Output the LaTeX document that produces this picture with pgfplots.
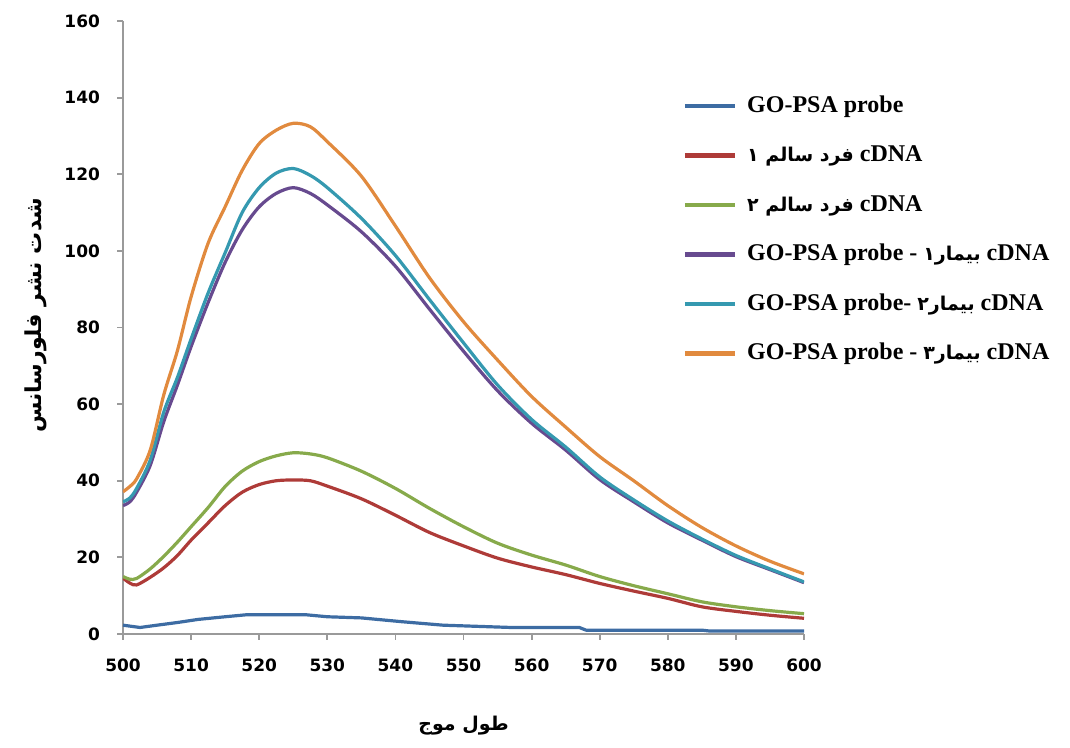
\documentclass[border=0pt]{standalone}
\usepackage{fontspec}
\setmainfont{Liberation Serif}
\newfontfamily\tickfont{DejaVu Sans}
\newfontfamily\arabicfont[Script=Arabic]{DejaVu Sans}
\TeXXeTstate=1
\usepackage{pgfplots}
\pgfplotsset{compat=1.18}

\definecolor{sBlue}{HTML}{3D6CA3}
\definecolor{sRed}{HTML}{AE3B38}
\definecolor{sGreen}{HTML}{87AA4B}
\definecolor{sPurple}{HTML}{674A8F}
\definecolor{sTeal}{HTML}{3599B0}
\definecolor{sOrange}{HTML}{E18A3E}
\definecolor{axgray}{HTML}{9A9A9A}

\newcommand{\faf}{\arabicfont\bfseries\fontsize{9.5}{11}\selectfont}

\begin{document}
\begin{tikzpicture}
\begin{axis}[
    scale only axis,
    width=340.5pt, height=306.5pt,
    xmin=500, xmax=600, ymin=0, ymax=160,
    xtick={500,510,...,600},
    ytick={0,20,...,160},
    axis x line*=bottom, axis y line*=left,
    axis line style={axgray, line width=0.9pt, -},
    tick align=outside,
    major tick length=3pt,
    tick style={axgray, line width=0.9pt},
    /pgf/number format/assume math mode=true,
    ticklabel style={font=\tickfont\bfseries\fontsize{8.5}{10}\selectfont},
    xticklabel style={yshift=-6pt},
    yticklabel style={xshift=-5pt},
    xlabel={{\faf\beginR طول موج\endR}},
    ylabel={{\arabicfont\bfseries\fontsize{11}{13}\selectfont\beginR شدت نشر فلورسانس\endR}},
    xlabel shift=15pt,
    ylabel style={at={(ticklabel cs:0.52)}},
    ylabel shift=2pt,
    every axis plot/.append style={line width=1.6pt, line join=round, mark=none},
    legend cell align=left,
    legend style={
        at={(rel axis cs:0.812,0.888)}, anchor=north west,
        draw=none, fill=none,
        font=\bfseries\fontsize{12}{14}\selectfont,
        nodes={inner sep=0pt, text height=9pt, text depth=3pt},
        row sep=12.75pt,
        /tikz/every odd column/.append style={column sep=5pt},
    },
    legend image code/.code={\draw[#1, line width=2.4pt] (0pt,0pt) -- (25pt,0pt);},
]
% GO-PSA probe
\addplot[sBlue] coordinates {
(500,2.3) (502.5,1.7) (505,2.3) (508,3.0) (511,3.8) (515,4.5) (518,5.0)
(527,5.0) (530,4.5) (535,4.2) (541,3.2) (547,2.3) (552,2.0) (557,1.7)
(567,1.7) (568,1.0) (585,1.0) (586,0.8) (600,0.8)
};
% healthy 1
\addplot[sRed, smooth, tension=0.5] coordinates {
(500,14.6) (501,13.3) (502,12.8) (504,14.8) (506,17.3) (508,20.5) (510,24.5)
(512.5,29.0) (515,33.5) (517.5,37.0) (520,39.0) (522.5,40.0) (525,40.2)
(527.5,40.0) (530,38.6) (535,35.3) (540,31.0) (545,26.5) (550,23.0)
(555,19.8) (560,17.5) (565,15.5) (570,13.2) (575,11.2) (580,9.3)
(585,7.1) (590,5.9) (595,4.9) (600,4.1)
};
% healthy 2
\addplot[sGreen, smooth, tension=0.5] coordinates {
(500,15.0) (501,14.3) (502,14.5) (504,17.0) (506,20.3) (508,24.0) (510,28.0)
(512.5,33.0) (515,38.5) (517.5,42.5) (520,45.0) (522.5,46.5) (525,47.3)
(527.5,47.0) (530,46.0) (535,42.5) (540,38.0) (545,32.8) (550,28.0)
(555,23.7) (560,20.6) (565,18.0) (570,15.0) (575,12.6) (580,10.5)
(585,8.4) (590,7.1) (595,6.1) (600,5.3)
};
% patient 1
\addplot[sPurple, smooth, tension=0.5] coordinates {
(500,33.5) (501,34.5) (502,37.0) (504,44.0) (506,55.5) (508,65.0) (510,75.0)
(512.5,86.5) (515,97.0) (517.5,105.5) (520,111.5) (522.5,115.0) (525,116.5)
(527.5,115.0) (530,112.0) (535,105.0) (540,96.0) (545,84.8) (550,73.8)
(555,63.5) (560,55.0) (565,48.0) (570,40.3) (575,34.5) (580,29.0)
(585,24.5) (590,20.2) (595,16.8) (600,13.4)
};
% patient 2
\addplot[sTeal, smooth, tension=0.5] coordinates {
(500,34.5) (501,35.5) (502,38.0) (504,45.4) (506,58.0) (508,67.0) (510,77.0)
(512.5,89.0) (515,99.5) (517.5,110.0) (520,116.5) (522.5,120.3) (525,121.5)
(527.5,119.7) (530,116.5) (535,108.5) (540,98.8) (545,87.3) (550,76.0)
(555,65.0) (560,56.0) (565,48.8) (570,41.0) (575,35.0) (580,29.5)
(585,24.8) (590,20.5) (595,17.0) (600,13.6)
};
% patient 3
\addplot[sOrange, smooth, tension=0.5] coordinates {
(500,37.1) (501,38.5) (502,40.5) (504,48.0) (506,62.5) (508,74.0) (510,88.0)
(512.5,102.0) (515,111.5) (517.5,121.0) (520,128.0) (522.5,131.5) (525,133.3)
(527.5,132.4) (530,128.5) (535,119.5) (540,106.5) (545,93.0) (550,81.5)
(555,71.5) (560,62.0) (565,54.0) (570,46.3) (575,40.0) (580,33.5)
(585,27.8) (590,23.0) (595,19.0) (600,15.7)
};
\legend{
  GO-PSA probe,
  {{\faf\beginR فرد سالم ۱\endR} cDNA},
  {{\faf\beginR فرد سالم ۲\endR} cDNA},
  {GO-PSA probe - {\faf\beginR بیمار۱\endR} cDNA},
  {GO-PSA probe- {\faf\beginR بیمار۲\endR} cDNA},
  {GO-PSA probe - {\faf\beginR بیمار۳\endR} cDNA}
}
\end{axis}
\pgfresetboundingbox
\path[use as bounding box] ([xshift=-61.5pt,yshift=-57pt]current axis.south west)
  rectangle ([xshift=133pt,yshift=10.5pt]current axis.north east);
\end{tikzpicture}
\end{document}
